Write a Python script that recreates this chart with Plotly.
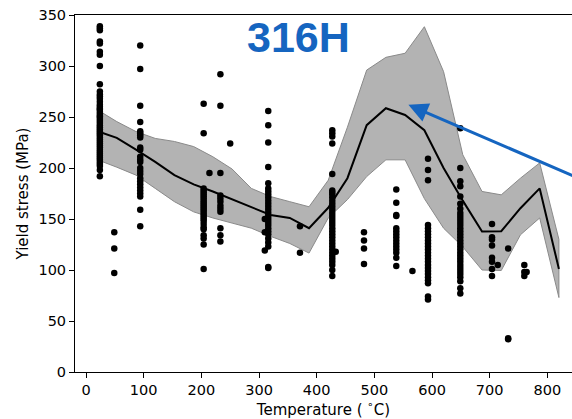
import plotly.graph_objects as go

# Measured yield stress of 316H, grouped by test temperature (°C) -> values (MPa)
temp_24 = [339, 337, 335, 324, 322, 314, 311, 300, 282, 275, 272, 270, 268, 265, 262, 260,
           258, 257, 255, 253, 251, 250, 248, 246, 244, 242, 240, 238, 236, 234, 232, 230,
           228, 226, 224, 222, 220, 218, 216, 214, 212, 210, 208, 206, 204, 202, 198, 192]
temp_49 = [137, 121, 97]
temp_94 = [320, 297, 261, 245, 236, 234, 232, 230, 220, 218, 211, 208, 206, 200, 197, 194,
           190, 187, 184, 181, 178, 175, 172, 159, 143]
temp_204 = [263, 234, 180, 178, 176, 174, 172, 170, 168, 166, 164, 162, 160, 158, 156, 154,
            152, 150, 148, 145, 142, 140, 134, 131, 125, 101]
temp_214 = [195]
temp_233 = [292, 261, 195, 173, 170, 167, 163, 160, 157, 141, 134, 128]
temp_250 = [224]
temp_310 = [150, 137, 119]
temp_316 = [256, 242, 225, 201, 185, 180, 177, 174, 171, 168, 165, 162, 159, 156, 153, 150,
            147, 144, 141, 138, 135, 131, 127, 123, 103, 102]
temp_371 = [143, 117]
temp_427 = [237, 234, 231, 224, 194, 178, 176, 174, 171, 168, 165, 162, 159, 156, 153, 150,
            147, 144, 141, 138, 135, 132, 129, 126, 123, 120, 117, 114, 111, 108, 105, 100, 94]
temp_433 = [118]
temp_482 = [137, 129, 121, 106]
temp_538 = [179, 166, 154, 153, 141, 138, 135, 132, 129, 126, 123, 120, 117, 112, 104]
temp_566 = [99]
temp_593 = [209, 198, 188, 144, 141, 138, 135, 132, 129, 126, 123, 120, 117, 114, 111, 108,
            105, 102, 99, 96, 93, 90, 87, 74, 71]
temp_649 = [239, 200, 187, 182, 172, 165, 160, 156, 153, 150, 147, 144, 141, 138, 135, 132,
            129, 126, 123, 120, 117, 114, 111, 108, 105, 102, 99, 96, 93, 89, 82, 77]
temp_704 = [145, 132, 130, 124, 112, 108, 101, 94]
temp_714 = [105]
temp_732 = [121, 33, 32]
temp_760 = [105, 98, 94]
temp_764 = [98]

groups = {
    24: temp_24, 49: temp_49, 94: temp_94, 204: temp_204, 214: temp_214, 233: temp_233,
    250: temp_250, 310: temp_310, 316: temp_316, 371: temp_371, 427: temp_427,
    433: temp_433, 482: temp_482, 538: temp_538, 566: temp_566, 593: temp_593,
    649: temp_649, 704: temp_704, 714: temp_714, 732: temp_732, 760: temp_760,
    764: temp_764,
}

# Model prediction on a temperature grid: mean and confidence band
grid_t = [20, 53.3, 86.7, 120, 153.3, 186.7, 220, 253.3, 286.7, 320, 353.3, 386.7, 420,
          453.3, 486.7, 520, 553.3, 586.7, 620, 653.3, 686.7, 720, 753.3, 786.7, 820]
mean_ys = [236, 229.5, 218, 206, 193, 184, 177, 169, 161.6, 154, 151, 141, 161,
           190, 242, 258.6, 252, 237, 200, 168, 137.7, 138, 160.6, 180, 101]
upper_ys = [257, 245.5, 235.7, 229, 226, 221, 211, 199, 180, 172, 167, 162, 188,
            240, 296, 308.5, 312.5, 338.5, 294.5, 213, 177, 173.7, 190, 205, 130]
lower_ys = [208, 200.8, 193, 180, 167, 157, 151, 146, 141, 133, 126, 116.6, 151,
            169, 191.6, 208, 208, 170, 141, 122.7, 100, 99.5, 134.5, 151, 73]

fig = go.Figure()

# Confidence band as a closed polygon
fig.add_trace(go.Scatter(
    x=grid_t + grid_t[::-1],
    y=upper_ys + lower_ys[::-1],
    fill="toself", fillcolor="#b3b3b3",
    line=dict(color="#8a8a8a", width=1),
    mode="lines", hoverinfo="skip", showlegend=False,
))

# Experimental points
xs, ys = [], []
for t, vals in groups.items():
    xs += [t] * len(vals)
    ys += vals
fig.add_trace(go.Scatter(
    x=xs, y=ys, mode="markers",
    marker=dict(color="black", size=6.5, line=dict(width=0)),
    showlegend=False,
))

# Mean prediction
fig.add_trace(go.Scatter(
    x=grid_t, y=mean_ys, mode="lines",
    line=dict(color="black", width=2),
    showlegend=False,
))

blue = "#1565c0"

fig.add_annotation(
    x=559, y=262, ax=850, ay=191, xref="x", yref="y", axref="x", ayref="y",
    text="", showarrow=True, arrowhead=2, arrowsize=1.3, arrowwidth=3,
    arrowcolor=blue,
)
fig.add_annotation(
    x=298.5, y=37.5, xref="paper", yref="paper", text="<b>316H</b>",
    showarrow=False, font=dict(family="Liberation Sans, Arial", size=43, color=blue),
    xanchor="center", yanchor="middle",
)
# Convert the title position from pixels to paper coordinates
fig.layout.annotations[1].x = (298.5 - 75) / (572 - 75)
fig.layout.annotations[1].y = (372.3 - 37.5) / (372.3 - 15)

tick_font = dict(family="DejaVu Sans", size=14.5, color="black")
fig.update_layout(
    width=572, height=419,
    margin=dict(l=75, r=0, t=15, b=47),
    plot_bgcolor="white", paper_bgcolor="white",
    xaxis=dict(
        range=[-19.1, 842.7], tickvals=[0, 100, 200, 300, 400, 500, 600, 700, 800],
        ticks="outside", ticklen=5, tickcolor="black", tickwidth=1,
        showline=True, linecolor="black", linewidth=1, mirror=True,
        showgrid=False, zeroline=False, tickfont=tick_font,
        title=dict(text="Temperature ( <sup>∘</sup>C)",
                   font=dict(family="DejaVu Sans", size=15, color="black"), standoff=4),
    ),
    yaxis=dict(
        range=[0, 350], tickvals=[0, 50, 100, 150, 200, 250, 300, 350],
        ticks="outside", ticklen=5, tickcolor="black", tickwidth=1,
        showline=True, linecolor="black", linewidth=1,
        showgrid=False, zeroline=False, tickfont=tick_font,
        title=dict(text="Yield stress (MPa)",
                   font=dict(family="DejaVu Sans", size=15, color="black"), standoff=6),
    ),
)

fig.write_html("out.html")
